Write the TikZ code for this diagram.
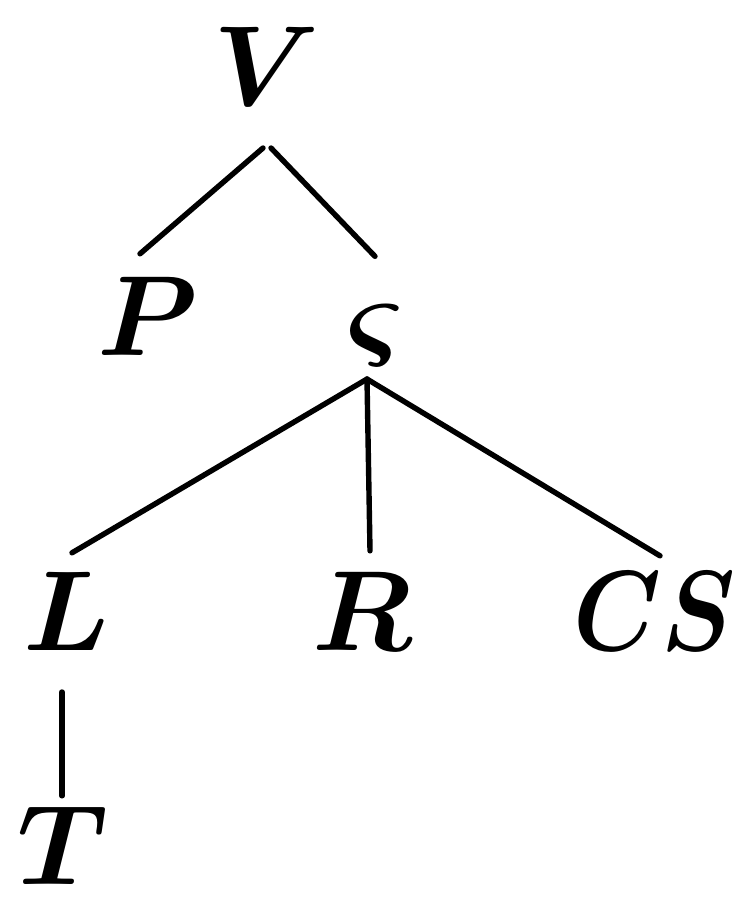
\documentclass[tikz,border=0pt]{standalone}
\usepackage{graphicx}
\usepackage{amsmath}
\usepackage{bm}
\newcommand{\bigsym}[1]{\scalebox{2.29}{$\bm{#1}$}}
\newcommand{\bigsymn}[1]{\scalebox{2.0}[2.29]{$\bm{#1}$}}
\tikzset{
  lbl/.style={inner sep=0pt, outer sep=0pt, anchor=base, font=\fontsize{24.88}{30}\selectfont},
  edge/.style={line width=2.7pt, line cap=round}
}
\begin{document}
\begin{tikzpicture}[x=0.5pt,y=-0.5pt]
\useasboundingbox (0,0) rectangle (736,899);
\node[lbl] (V) at (267,105) {\bigsym{V}};
\node[lbl] (P) at (148,355) {\bigsym{P}};
\node[lbl] (S) at (375,355) {\bigsym{\varsigma}};
\node[lbl] (L) at (67,650) {\bigsym{L}};
\node[lbl] (R) at (362,650) {\bigsym{R}};
\node[lbl] (CS) at (655,650) {\bigsymn{CS}};
\node[lbl] (T) at (63,884) {\bigsym{T}};
\draw[edge] ([shift={(-4,43)}]V.south) -- ([shift={(-8,-23)}]P.north);
\draw[edge] ([shift={(4,43)}]V.south) -- ([shift={(0,-48)}]S.north);
\draw[edge] ([shift={(-8,13)}]S.south) -- ([shift={(5,-19)}]L.north);
\draw[edge] ([shift={(-8,13)}]S.south) -- ([shift={(8,-21)}]R.north);
\draw[edge] ([shift={(-8,13)}]S.south) -- ([shift={(5,-16)}]CS.north);
\draw[edge] ([shift={(-5,42)}]L.south) -- ([shift={(-1,-10)}]T.north);
\end{tikzpicture}
\end{document}
